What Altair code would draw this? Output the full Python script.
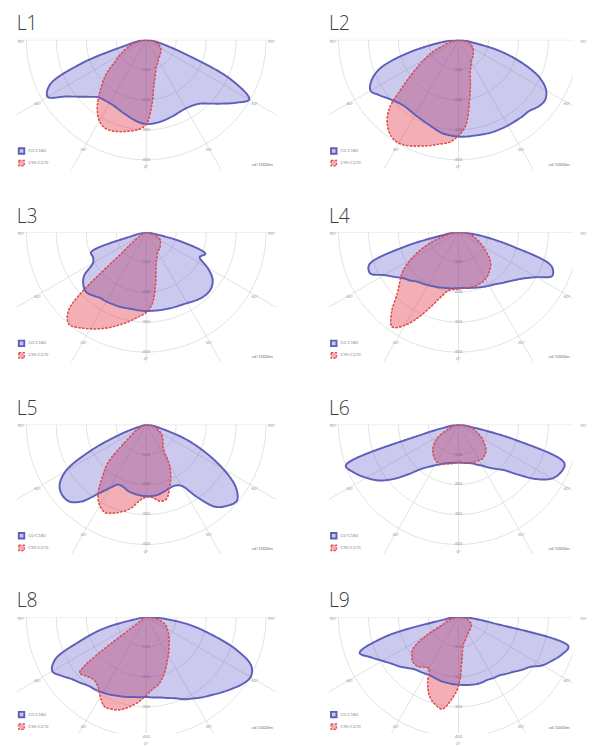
import altair as alt
import pandas as pd
import numpy as np

# ---------------- data ----------------
ANGLES = list(range(-90, 95, 5))          # gamma, degrees from nadir (left negative)
PANELS = ["L1", "L2", "L3", "L4", "L5", "L6", "L8", "L9"]
SERIES = ["C0-C180", "C90-C270"]
UNIT_LABEL = "cd/1000lm"

C0_C180 = {
    "L1": [0, 12, 30, 68, 229, 355, 380, 330, 295, 269, 250, 245, 244, 246, 252, 259, 268, 276, 281,
           280, 277, 273, 269, 265, 264, 268, 278, 301, 331, 366, 397, 310, 140, 62, 30, 12, 0],
    "L2": [0, 25, 82, 184, 278, 320, 339, 322, 305, 293, 286, 286, 289, 293, 299, 307, 316, 320, 323,
           324, 324, 326, 328, 329, 330, 331, 333, 335, 347, 352, 338, 299, 227, 140, 42, 15, 0],
    "L3": [0, 5, 12, 50, 196, 196, 205, 253, 274, 283, 276, 268, 267, 265, 264, 262, 261, 262, 263,
           263, 264, 265, 267, 269, 273, 280, 286, 289, 285, 270, 236, 197, 210, 120, 20, 8, 0],
    "L4": [0, 22, 47, 185, 317, 325, 286, 260, 239, 228, 215, 209, 204, 199, 196, 192, 190, 188, 187,
           187, 189, 192, 196, 201, 206, 212, 222, 233, 248, 268, 300, 345, 330, 195, 92, 30, 0],
    "L5": [0, 5, 8, 15, 80, 200, 310, 353, 366, 363, 335, 283, 245, 221, 222, 230, 234, 237, 239,
           239, 237, 231, 226, 225, 236, 295, 358, 383, 395, 365, 297, 215, 136, 55, 25, 10, 0],
    "L6": [0, 15, 30, 120, 400, 382, 355, 325, 282, 233, 193, 172, 157, 147, 138, 133, 130, 128, 127,
           128, 130, 133, 138, 148, 158, 175, 193, 215, 260, 317, 360, 377, 376, 195, 40, 15, 0],
    "L8": [0, 8, 20, 143, 234, 335, 362, 343, 323, 311, 300, 296, 291, 286, 280, 276, 271, 269, 267,
           270, 273, 280, 289, 303, 314, 327, 340, 356, 373, 391, 402, 387, 320, 223, 142, 50, 0],
    "L9": [0, 20, 47, 250, 351, 320, 293, 272, 257, 241, 228, 223, 219, 217, 219, 222, 223, 225, 226,
           228, 230, 232, 232, 231, 235, 238, 248, 259, 275, 291, 323, 345, 367, 380, 115, 40, 0],
}
C90_C270 = {
    "L1": [0, 10, 24, 40, 57, 80, 102, 128, 172, 208, 247, 285, 313, 325, 324, 317, 309, 300, 282,
           217, 150, 118, 97, 88, 80, 73, 70, 67, 63, 59, 56, 50, 44, 33, 26, 15, 0],
    "L2": [0, 8, 18, 28, 50, 95, 133, 179, 243, 328, 369, 392, 398, 390, 377, 365, 353, 343, 320,
           285, 210, 155, 115, 98, 85, 79, 74, 70, 65, 60, 56, 50, 45, 40, 33, 15, 0],
    "L3": [0, 2, 4, 6, 8, 10, 20, 45, 98, 365, 401, 389, 372, 355, 337, 318, 300, 283, 268,
           238, 178, 125, 100, 86, 76, 73, 70, 66, 62, 58, 55, 47, 37, 28, 20, 10, 0],
    "L4": [0, 20, 32, 50, 93, 140, 185, 227, 255, 288, 347, 386, 359, 312, 262, 223, 198, 192, 189,
           188, 188, 188, 187, 185, 180, 173, 163, 152, 135, 112, 93, 78, 63, 50, 34, 18, 0],
    "L5": [0, 4, 7, 10, 15, 22, 38, 56, 97, 182, 227, 280, 311, 324, 314, 300, 282, 255, 242,
           245, 259, 258, 227, 193, 155, 100, 86, 79, 71, 64, 56, 48, 40, 33, 25, 15, 0],
    "L6": [0, 5, 12, 20, 30, 42, 70, 92, 108, 122, 131, 139, 144, 145, 140, 136, 132, 129, 127,
           127, 130, 133, 135, 136, 138, 139, 135, 129, 118, 103, 90, 75, 60, 48, 34, 18, 0],
    "L8": [0, 2, 4, 5, 6, 8, 11, 20, 290, 280, 273, 282, 307, 330, 328, 320, 303, 284, 262,
           242, 230, 210, 187, 165, 148, 132, 118, 109, 99, 90, 81, 74, 65, 48, 30, 15, 0],
    "L9": [0, 7, 15, 23, 38, 55, 124, 185, 203, 214, 214, 205, 198, 244, 282, 302, 312, 278, 231,
           138, 93, 83, 75, 68, 63, 60, 58, 56, 54, 52, 50, 45, 37, 30, 22, 12, 0],
}

GRID_RADII = [100, 200, 300, 400]
GRID_LABELS = ["100", "200", "300", "400"]
SPOKE_ANGLES = [-90, -60, -30, 0, 30, 60, 90]
SPOKE_LABELS = ["90°", "60°", "30°", "0°", "30°", "60°", "90°"]

# ---------------- tables ----------------
rows = []
for p in PANELS:
    for s, src in zip(SERIES, [C0_C180, C90_C270]):
        vals = src[p]
        assert len(vals) == len(ANGLES), (p, s, len(vals))
        for a, v in zip(ANGLES, vals):
            rows.append({"panel": p, "series": s, "angle": a, "cd": v})
curves = pd.DataFrame(rows)

circ = pd.DataFrame([{"r": r, "a": a} for r in GRID_RADII for a in range(-90, 91, 2)])
spokes = pd.DataFrame({"a": SPOKE_ANGLES, "r": [700] * len(SPOKE_ANGLES)})
spoke_lab = pd.DataFrame({"a": SPOKE_ANGLES, "lab": SPOKE_LABELS, "r": [418] * len(SPOKE_ANGLES)})
ring_lab = pd.DataFrame({"r": GRID_RADII, "lab": GRID_LABELS})
unit_df = pd.DataFrame({"t": [UNIT_LABEL]})

PX_PER_CD = 0.31
BLUE = "#5d5fb9"
RED = "#e4504c"
FILL_RANGE = ["rgba(75,70,195,0.29)", "rgba(225,55,70,0.40)"]
GRID_C = "#dedede"
FONT = "Lato"
TITLE_FONT = "Open Sans"

SIN = "sin(datum.{a} * PI / 180)"
COS = "cos(datum.{a} * PI / 180)"


def panel(name, col, row):
    width = 268 if col == 0 else 252
    height = 134 if row < 3 else 120
    xmin = -134 / PX_PER_CD
    xmax = (width - 134) / PX_PER_CD
    ymax = height / PX_PER_CD
    xs = alt.Scale(domain=[xmin, xmax], nice=False, zero=False)
    ys = alt.Scale(domain=[0, ymax], nice=False, zero=False, reverse=True)

    def X(f):
        return alt.X(f, type="quantitative", scale=xs, axis=None)

    def Y(f):
        return alt.Y(f, type="quantitative", scale=ys, axis=None)

    circles = alt.Chart(circ).transform_calculate(
        gx="datum.r * " + SIN.format(a="a"), gy="datum.r * " + COS.format(a="a")
    ).mark_line(clip=True, stroke=GRID_C, strokeWidth=0.9).encode(
        x=X("gx"), y=Y("gy"), detail="r:N", order="a:Q"
    )
    rules = alt.Chart(spokes).transform_calculate(
        x0="0", y0="0",
        x1="datum.r * " + SIN.format(a="a"), y1="datum.r * " + COS.format(a="a")
    ).mark_rule(clip=True, stroke=GRID_C, strokeWidth=0.9).encode(
        x=X("x0"), y=Y("y0"), x2="x1:Q", y2="y1:Q"
    )
    slab = alt.Chart(spoke_lab).transform_calculate(
        lx="datum.r * " + SIN.format(a="a"), ly="datum.r * " + COS.format(a="a")
    ).mark_text(fontSize=4.5, color="#9a9a9a", font=FONT, baseline="top", dy=-1).encode(
        x=X("lx"), y=Y("ly"), text="lab:N"
    )
    rlab = alt.Chart(ring_lab).transform_calculate(zero="0").mark_text(
        fontSize=4.5, color="#9a9a9a", font=FONT, baseline="middle"
    ).encode(x=X("zero"), y=Y("r"), text="lab:N")

    leg = alt.Legend(
        title=None, orient="bottom-left", offset=1, padding=0,
        symbolType="square", symbolSize=32, symbolStrokeWidth=1.2,
        labelFontSize=4.5, labelColor="#8a8a8a", labelFont=FONT,
        rowPadding=0, labelOffset=3,
    )
    fill_sc = alt.Scale(domain=SERIES, range=FILL_RANGE)
    stroke_sc = alt.Scale(domain=SERIES, range=[BLUE, RED])
    dash_sc = alt.Scale(domain=SERIES, range=[[1, 0], [2.5, 1.5]])
    width_sc = alt.Scale(domain=SERIES, range=[2.0, 1.3])

    def poly(s):
        return alt.Chart(curves).transform_filter(
            (alt.datum.panel == name) & (alt.datum.series == s)
        ).transform_calculate(
            px="datum.cd * " + SIN.format(a="angle"), py="datum.cd * " + COS.format(a="angle")
        ).mark_line(clip=True, interpolate="catmull-rom").encode(
            x=X("px"), y=Y("py"), order=alt.Order("angle:Q"),
            fill=alt.Fill("series:N", scale=fill_sc, legend=leg),
            stroke=alt.Stroke("series:N", scale=stroke_sc, legend=leg),
            strokeDash=alt.StrokeDash("series:N", scale=dash_sc, legend=leg),
            strokeWidth=alt.StrokeWidth("series:N", scale=width_sc, legend=None),
        )

    red_top = alt.Chart(curves).transform_filter(
        (alt.datum.panel == name) & (alt.datum.series == SERIES[1])
    ).transform_calculate(
        px="datum.cd * " + SIN.format(a="angle"), py="datum.cd * " + COS.format(a="angle")
    ).mark_line(clip=True, interpolate="catmull-rom", stroke=RED, strokeDash=[2.5, 1.5],
                strokeWidth=1.3).encode(
        x=X("px"), y=Y("py"), order=alt.Order("angle:Q")
    )

    unit = alt.Chart(unit_df).mark_text(
        align="right", baseline="bottom", fontSize=4.5, color="#777", font=FONT
    ).encode(text="t:N", x=alt.value(width - 3), y=alt.value(height - 3))

    return alt.layer(circles, rules, slab, rlab, poly(SERIES[1]), poly(SERIES[0]), red_top, unit).properties(
        width=width, height=height,
        title=alt.TitleParams(text=name, anchor="start", fontSize=20, font=TITLE_FONT,
                              fontWeight=300, color="#3c3c3c", offset=5),
    )


RES = dict(x="independent", y="independent", fill="independent", stroke="independent",
           strokeDash="independent", strokeWidth="independent")
LRES = dict(fill="independent", stroke="independent", strokeDash="independent")

rows_c = []
for i in range(4):
    a = panel(PANELS[2 * i], 0, i)
    b = panel(PANELS[2 * i + 1], 1, i)
    rows_c.append(alt.hconcat(a, b, spacing=55).resolve_scale(**RES).resolve_legend(**LRES))

chart = alt.vconcat(*rows_c, spacing=39).resolve_scale(**RES).resolve_legend(**LRES).properties(
    padding={"left": 9, "top": -6, "right": 0, "bottom": 0}
).configure_view(stroke=None)

chart.save("out.html", embed_options={"renderer": "svg", "actions": False})
